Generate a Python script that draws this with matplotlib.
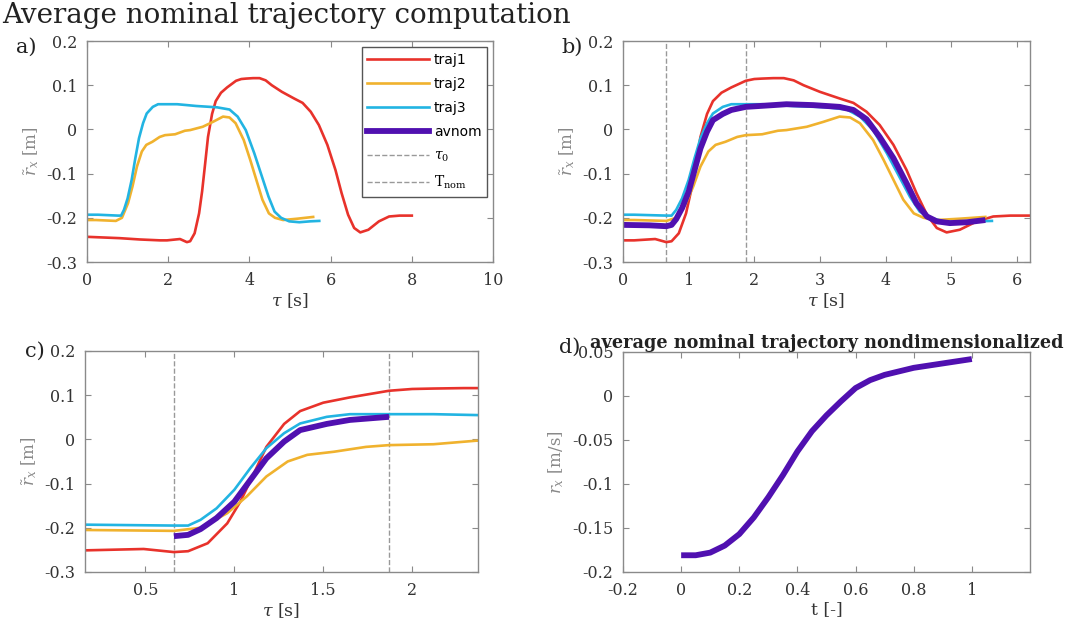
import matplotlib
matplotlib.use('Agg')
import matplotlib.pyplot as plt
from matplotlib.lines import Line2D
from matplotlib.ticker import FuncFormatter
import numpy as np

plt.rcParams['font.family'] = 'DejaVu Serif'
plt.rcParams['mathtext.fontset'] = 'dejavuserif'
plt.rcParams['axes.unicode_minus'] = False
plt.rcParams['lines.solid_joinstyle'] = 'round'

# aligned trajectories (time axis of panel b)
tau_red = [-1.8, -1.0, -0.5, 0.0, 0.17, 0.49, 0.66, 0.74, 0.85, 0.96, 1.035, 1.11, 1.18, 1.28,
           1.37, 1.5, 1.65, 1.87, 2.0, 2.12, 2.29, 2.45, 2.6, 2.75, 3.0, 3.3, 3.51, 3.71, 3.91,
           4.12, 4.32, 4.47, 4.63, 4.78, 4.93, 5.13, 5.39, 5.64, 5.9, 6.2]
y_red = [-0.243, -0.246, -0.249, -0.251, -0.251, -0.248, -0.255, -0.253, -0.235, -0.19, -0.14,
         -0.077, -0.017, 0.035, 0.064, 0.083, 0.095, 0.11, 0.114, 0.115, 0.116, 0.116, 0.111,
         0.1, 0.085, 0.07, 0.06, 0.04, 0.01, -0.035, -0.092, -0.144, -0.193, -0.223, -0.233,
         -0.227, -0.208, -0.197, -0.195, -0.195]

tau_orange = [-0.05, 0.17, 0.66, 0.81, 0.96, 1.07, 1.18, 1.30, 1.41, 1.56, 1.74, 1.87, 2.12,
              2.36, 2.49, 2.8, 3.05, 3.3, 3.46, 3.61, 3.81, 3.97, 4.12, 4.27, 4.43, 4.58,
              4.78, 5.13, 5.52]
y_orange = [-0.205, -0.205, -0.207, -0.2, -0.167, -0.129, -0.084, -0.05, -0.035, -0.028,
            -0.017, -0.013, -0.011, -0.003, -0.0015, 0.006, 0.017, 0.029, 0.027, 0.014,
            -0.024, -0.069, -0.114, -0.159, -0.19, -0.2, -0.205, -0.202, -0.198]

tau_cyan = [-0.1, 0.17, 0.66, 0.74, 0.81, 0.90, 1.0, 1.09, 1.18, 1.28, 1.37, 1.52, 1.65, 1.87,
            2.12, 2.36, 2.59, 3.1, 3.41, 3.61, 3.81, 4.02, 4.22, 4.37, 4.52, 4.68, 4.88, 5.13,
            5.39, 5.62]
y_cyan = [-0.193, -0.193, -0.195, -0.195, -0.182, -0.156, -0.114, -0.065, -0.02, 0.014, 0.036,
          0.051, 0.057, 0.057, 0.057, 0.055, 0.053, 0.05, 0.045, 0.029, -0.0015, -0.054, -0.11,
          -0.152, -0.186, -0.2, -0.208, -0.21, -0.208, -0.207]

tau_avg = [0.0, 0.4, 0.66, 0.74, 0.81, 0.90, 1.0, 1.09, 1.18, 1.28, 1.37, 1.52, 1.65, 1.87,
           2.29, 2.49, 2.9, 3.3, 3.51, 3.71, 3.91, 4.12, 4.32, 4.47, 4.63, 4.78, 4.98, 5.24, 5.52]
y_avg = [-0.216, -0.217, -0.219, -0.216, -0.203, -0.178, -0.141, -0.092, -0.043, -0.005, 0.021,
         0.035, 0.044, 0.051, 0.055, 0.057, 0.055, 0.051, 0.044, 0.023, -0.017, -0.065, -0.122,
         -0.167, -0.197, -0.208, -0.212, -0.21, -0.205]

# time shift of each raw recording (panel a) relative to the aligned one
shift = {'traj1': 1.8, 'traj2': 0.05, 'traj3': 0.1}

tau0 = 0.66
t_nom = 1.87

# nondimensionalized average nominal trajectory
t_nd = [0, 0.05, 0.1, 0.15, 0.2, 0.25, 0.3, 0.35, 0.4, 0.45, 0.5, 0.55, 0.6, 0.65, 0.7, 0.8, 0.9, 1.0]
y_nd = [-0.181, -0.181, -0.178, -0.17, -0.157, -0.138, -0.115, -0.09, -0.063, -0.04, -0.022,
        -0.006, 0.009, 0.018, 0.024, 0.032, 0.037, 0.042]

c_red = '#e8322b'
c_orange = '#f0b22e'
c_cyan = '#22b4e2'
c_avg = '#5010b0'
c_dash = '#999999'
lw = 1.9
lw_avg = 4.2


def fmt(v, pos):
    if abs(v) < 1e-9:
        return '0'
    return '%g' % round(v, 6)


def style(ax):
    for s in ax.spines.values():
        s.set_color('#8a8a8a')
        s.set_linewidth(1.0)
    ax.tick_params(direction='in', top=True, right=True, length=4, width=0.8,
                   color='#8a8a8a', labelcolor='#333333', labelsize=11.5, pad=7)
    ax.xaxis.set_major_formatter(FuncFormatter(fmt))
    ax.yaxis.set_major_formatter(FuncFormatter(fmt))


def labels(ax, ylab=r'$\tilde{r}_x$ [m]', xlab=r'$\tau$ [s]'):
    ax.set_xlabel(xlab, fontsize=12.5, color='#333333', labelpad=2)
    ax.set_ylabel(ylab, fontsize=12, color='#888888', labelpad=4)


fig = plt.figure(figsize=(10.69, 6.3), dpi=100)
ax_a = fig.add_axes([0.0814, 0.5841, 0.3798, 0.3508])
ax_b = fig.add_axes([0.5828, 0.5841, 0.3807, 0.3508])
ax_c = fig.add_axes([0.0795, 0.0921, 0.3676, 0.3508])
ax_d = fig.add_axes([0.5828, 0.0921, 0.3807, 0.3492])

# a) raw trajectories
ax_a.plot(np.array(tau_red) + shift['traj1'], y_red, color=c_red, lw=lw)
ax_a.plot(np.array(tau_orange) + shift['traj2'], y_orange, color=c_orange, lw=lw)
ax_a.plot(np.array(tau_cyan) + shift['traj3'], y_cyan, color=c_cyan, lw=lw)
ax_a.set_xlim(0, 10)
ax_a.set_ylim(-0.3, 0.2)
ax_a.set_xticks(np.arange(0, 11, 2))
ax_a.set_yticks(np.arange(-0.3, 0.21, 0.1))
style(ax_a)
labels(ax_a)
handles = [Line2D([], [], color=c_red, lw=lw),
           Line2D([], [], color=c_orange, lw=lw),
           Line2D([], [], color=c_cyan, lw=lw),
           Line2D([], [], color=c_avg, lw=lw_avg),
           Line2D([], [], color=c_dash, lw=1.0, ls='--'),
           Line2D([], [], color=c_dash, lw=1.0, ls='--')]
names = ['traj1', 'traj2', 'traj3', 'avnom', r'$\tau_0$', r'$\mathrm{T}_{\mathrm{nom}}$']
leg = ax_a.legend(handles, names, loc='upper left', bbox_to_anchor=(0.677, 0.973),
                  borderaxespad=0, prop={'family': 'DejaVu Sans', 'size': 10},
                  handlelength=4.4, handletextpad=0.4, labelspacing=0.72,
                  fancybox=False, edgecolor='#555555', framealpha=1)
leg.get_frame().set_linewidth(1.0)

# b) aligned trajectories with average
for ax in (ax_b, ax_c):
    ax.axvline(tau0, color=c_dash, lw=1.0, ls='--')
    ax.axvline(t_nom, color=c_dash, lw=1.0, ls='--')
    ax.plot(tau_red, y_red, color=c_red, lw=lw)
    ax.plot(tau_orange, y_orange, color=c_orange, lw=lw)
    ax.plot(tau_cyan, y_cyan, color=c_cyan, lw=lw)

ax_b.plot(tau_avg, y_avg, color=c_avg, lw=lw_avg, solid_capstyle='butt')
ax_b.set_xlim(0, 6.2)
ax_b.set_ylim(-0.3, 0.2)
ax_b.set_xticks(np.arange(0, 7, 1))
ax_b.set_yticks(np.arange(-0.3, 0.21, 0.1))
style(ax_b)
labels(ax_b)

# c) zoom on the nominal segment
sel = [(t, v) for t, v in zip(tau_avg, y_avg) if tau0 <= t <= t_nom]
ax_c.plot([p[0] for p in sel], [p[1] for p in sel], color=c_avg, lw=lw_avg, solid_capstyle='butt')
ax_c.set_xlim(tau0 - 0.5, t_nom + 0.5)
ax_c.set_ylim(-0.3, 0.2)
ax_c.set_xticks([0.5, 1, 1.5, 2])
ax_c.set_yticks(np.arange(-0.3, 0.21, 0.1))
style(ax_c)
labels(ax_c)

# d) nondimensionalized
ax_d.plot(t_nd, y_nd, color=c_avg, lw=lw_avg, solid_capstyle='butt')
ax_d.set_xlim(-0.2, 1.2)
ax_d.set_ylim(-0.2, 0.05)
ax_d.set_xticks(np.arange(-0.2, 1.01, 0.2))
ax_d.set_yticks(np.arange(-0.2, 0.051, 0.05))
style(ax_d)
labels(ax_d, ylab=r'$r_x$ [m/s]', xlab='t [-]')
ax_d.set_title('average nominal trajectory nondimensionalized', fontsize=12.7,
               fontweight='bold', color='#222222', pad=3)

fig.text(0.002, 0.997, 'Average nominal trajectory computation', fontsize=20,
         color='#222222', ha='left', va='top')
for lab, x, y in [('a)', 0.015, 0.925), ('b)', 0.525, 0.925), ('c)', 0.023, 0.442), ('d)', 0.523, 0.448)]:
    fig.text(x, y, lab, fontsize=15, color='#222222', ha='left', va='center')

fig.savefig('out.png', dpi=100)
